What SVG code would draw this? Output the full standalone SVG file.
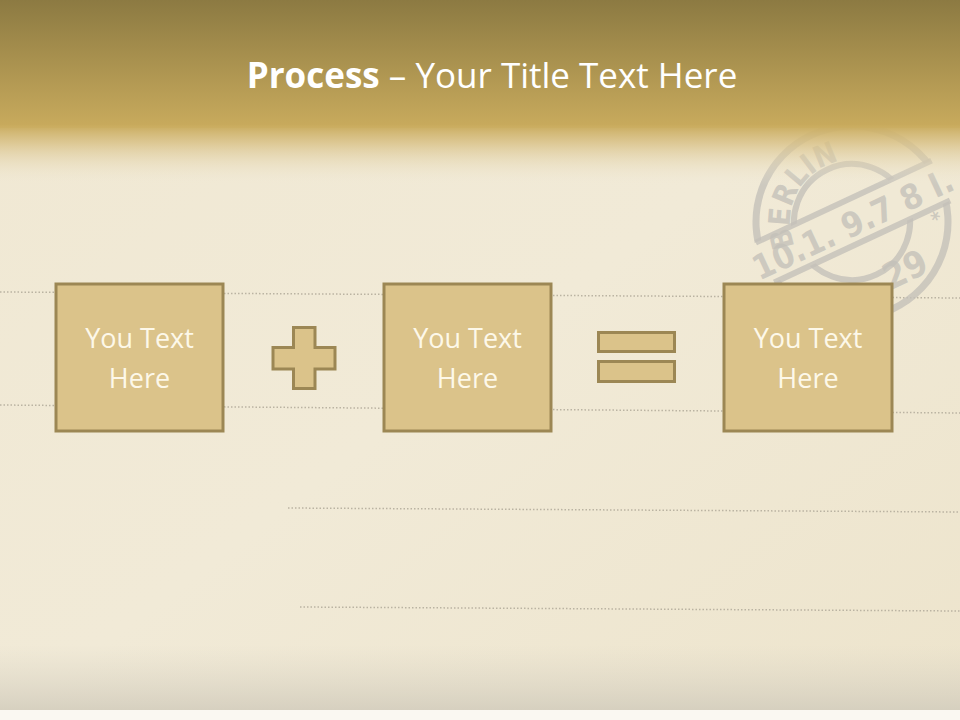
<svg xmlns="http://www.w3.org/2000/svg" width="960" height="720" viewBox="0 0 960 720">
<defs>
<linearGradient id="hdr" x1="0" y1="0" x2="0" y2="1">
<stop offset="0" stop-color="#8c7a42"/>
<stop offset="1" stop-color="#c9ab5d"/>
</linearGradient>
<linearGradient id="fade" x1="0" y1="0" x2="0" y2="1">
<stop offset="0" stop-color="#c9ab5d" stop-opacity="1"/>
<stop offset="0.3" stop-color="#d8c084" stop-opacity="0.8"/>
<stop offset="1" stop-color="#f0e9d5" stop-opacity="0"/>
</linearGradient>
<linearGradient id="paper" x1="0" y1="0" x2="1" y2="1">
<stop offset="0" stop-color="#f0e8d3"/>
<stop offset="0.5" stop-color="#f1ead7"/>
<stop offset="1" stop-color="#ede4cc"/>
</linearGradient>
<linearGradient id="bottom" x1="0" y1="0" x2="0" y2="1">
<stop offset="0" stop-color="#dcd6c6" stop-opacity="0"/>
<stop offset="1" stop-color="#d3cdbd" stop-opacity="0.9"/>
</linearGradient>
<path id="arcTop" d="M790 222 A62 62 0 0 1 914 222"/>
<style>
.box{fill:#dbc38a;stroke:#9c8754;stroke-width:3}
.sym{fill:#dbc38a;stroke:#9c8754;stroke-width:3}
.lbl{font-family:"Open Sans","Liberation Sans",sans-serif;font-size:27px;fill:#fdf8e9;text-anchor:middle}
.dot{stroke:#bab3a2;stroke-width:1.5;stroke-dasharray:1.5 2;fill:none}
.stamp{fill:none;stroke:#c4c1b9;stroke-opacity:0.8}
.stxt{font-family:"DejaVu Sans Condensed","DejaVu Sans",sans-serif;font-weight:bold;fill:#c4c1b9;fill-opacity:0.8}
</style>
</defs>
<rect x="0" y="0" width="960" height="720" fill="url(#paper)"/>
<rect x="0" y="645" width="960" height="66" fill="url(#bottom)"/>
<rect x="0" y="710" width="960" height="10" fill="#faf8f2"/>
<g id="lines">
<path class="dot" d="M0 292 L960 298"/>
<path class="dot" d="M0 405 L960 413"/>
<path class="dot" d="M288 508 L960 512"/>
<path class="dot" d="M300 607 L960 611"/>
</g>
<g id="stamp" transform="rotate(-25 852 222)">
<circle class="stamp" cx="852" cy="222" r="96" stroke-width="7"/>
<circle class="stamp" cx="852" cy="222" r="58" stroke-width="6"/>
<rect x="752" y="200" width="200" height="44" fill="#f0e9d5" stroke="none"/>
<path class="stamp" d="M756 200 H950 M756 244 H950" stroke-width="6"/>
<text class="stxt" x="852" y="236" font-size="34" text-anchor="middle">10.1. 9.7 8 I.</text>
<text class="stxt" font-size="30"><textPath href="#arcTop" startOffset="2">BERLIN</textPath></text>
<text class="stxt" x="880" y="300" font-size="36" text-anchor="middle">29</text>
<text class="stxt" x="930" y="262" font-size="20" text-anchor="middle">*</text>
</g>
<rect x="0" y="0" width="960" height="128" fill="url(#hdr)"/>
<rect x="0" y="125" width="960" height="60" fill="url(#fade)"/>
<g id="title">
<text x="492" y="88" font-family="Open Sans,Liberation Sans,sans-serif" font-size="35" fill="#ffffff" text-anchor="middle"><tspan font-weight="bold">Process</tspan> – Your Title Text Here</text>
</g>
<g id="node1">
<rect class="box" x="56" y="284" width="167" height="147"/>
<text class="lbl" x="139.5" y="348">You Text</text>
<text class="lbl" x="139.5" y="388">Here</text>
</g>
<g id="plus">
<path class="sym" d="M293.5 327.5 H315 V347.5 H335 V369 H315 V388.5 H293.5 V369 H273 V347.5 H293.5 Z"/>
</g>
<g id="node2">
<rect class="box" x="384" y="284" width="167" height="147"/>
<text class="lbl" x="467.5" y="348">You Text</text>
<text class="lbl" x="467.5" y="388">Here</text>
</g>
<g id="equals">
<rect class="sym" x="598.5" y="332.5" width="76" height="19"/>
<rect class="sym" x="598.5" y="361.5" width="76" height="20"/>
</g>
<g id="node3">
<rect class="box" x="724" y="284" width="168" height="147"/>
<text class="lbl" x="808" y="348">You Text</text>
<text class="lbl" x="808" y="388">Here</text>
</g>
<g id="connectors"/>
</svg>
